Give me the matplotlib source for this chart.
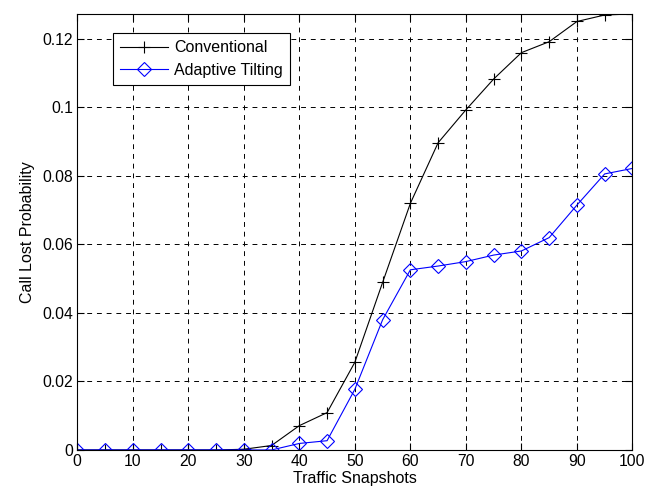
import numpy as np
import matplotlib
matplotlib.use('Agg')
import matplotlib.pyplot as plt

plt.rcParams['font.family'] = ['Liberation Sans', 'DejaVu Sans']

# traffic snapshots and call lost probability
snapshots = [0, 5, 10, 15, 20, 25, 30, 35, 40, 45, 50,
             55, 60, 65, 70, 75, 80, 85, 90, 95, 100]
conventional = [0, 0, 0, 0, 0, 0, 0.0002, 0.0013, 0.0071, 0.0109, 0.0256,
                0.0489, 0.0720, 0.0897, 0.0993, 0.1083, 0.1160, 0.1192, 0.1251, 0.1270, 0.1273]
adaptive = [0, 0, 0, 0, 0, 0, 0, 0, 0.0019, 0.0027, 0.0177,
            0.0380, 0.0526, 0.0537, 0.0550, 0.0569, 0.0581, 0.0620, 0.0715, 0.0806, 0.0822]

fig = plt.figure(figsize=(6.49, 4.95), dpi=100)
ax = fig.add_axes([0.119, 0.091, 0.8555, 0.8808])

ax.plot(snapshots, conventional, color='black', lw=0.8, marker='+', ms=9,
        mew=0.8, label='Conventional')
ax.plot(snapshots, adaptive, color='blue', lw=0.8, marker='D', ms=7,
        mfc='none', mew=0.8, label='Adaptive Tilting')

ax.set_xlim(0, 100)
ax.set_ylim(0, 0.1273)
ax.set_xticks(np.arange(0, 101, 10))
ax.set_yticks([0, 0.02, 0.04, 0.06, 0.08, 0.1, 0.12])
ax.set_yticklabels(['0', '0.02', '0.04', '0.06', '0.08', '0.1', '0.12'])
ax.tick_params(direction='in', top=True, right=True, labelsize=11.3, length=5, pad=3)
ax.grid(True, color='black', linestyle=(0, (5, 5)), linewidth=0.7)
for s in ax.spines.values():
    s.set_linewidth(0.8)

ax.set_xlabel('Traffic Snapshots', fontsize=11.5, labelpad=1)
ax.set_ylabel('Call Lost Probability', fontsize=11.5, labelpad=5)

leg = ax.legend(loc='upper left', bbox_to_anchor=(0.064, 0.956), fontsize=11.5,
                fancybox=False, edgecolor='black', framealpha=1,
                borderaxespad=0, handlelength=3.0, handletextpad=0.4,
                borderpad=0.45, labelspacing=0.45)
leg.get_frame().set_linewidth(0.8)

fig.savefig('out.png', dpi=100)
